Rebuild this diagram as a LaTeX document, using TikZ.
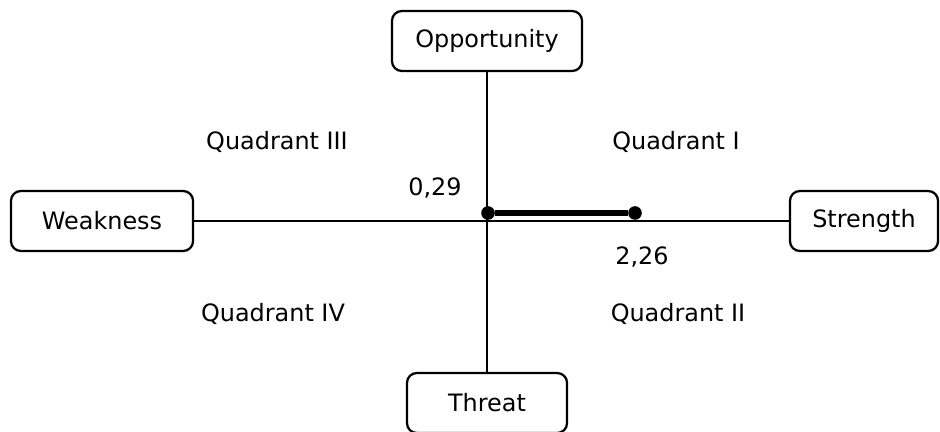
\documentclass[tikz,border=0pt]{standalone}
\usepackage{fontspec}
\setmainfont{DejaVu Sans}
\begin{document}
\begin{tikzpicture}[x=0.025cm, y=-0.025cm]

      \tikzset{axisbox/.style={draw, rounded corners=7pt, line width=1.6pt, minimum height=1.5cm, inner sep=0pt, font=\fontsize{17pt}{20pt}\selectfont},
               quadtext/.style={font=\fontsize{17pt}{20pt}\selectfont},
               enddot/.style={circle, fill=black, inner sep=0pt, minimum size=.34cm}}
      \useasboundingbox (0,0) rectangle (940,432);
%% Boxes
      	\node[axisbox, minimum width=4.75cm] (opp) at (487,41) {Opportunity};
      	\node[axisbox, minimum width=4.55cm] (weak) at (102,221) {Weakness};
      	\node[axisbox, minimum width=3.7cm] (str) at (864,221) {Strength};
      	\node[axisbox, minimum width=4cm] (thr) at (487,403) {Threat};
%% Quadrants
      	\node[quadtext] (q1) at (676,142) {Quadrant I};
      	\node[quadtext] (q2) at (678,314) {Quadrant II};
      	\node[quadtext] (q3) at (277,142) {Quadrant III};
      	\node[quadtext] (q4) at (273,314) {Quadrant IV};
%% Points
      	\node[enddot] (p1) at (488,213) {};
      	\node[enddot] (p2) at (635,213) {};
      	\node[quadtext] (v1) at (435,188) {0,29};
      	\node[quadtext] (v2) at (642,257) {2,26};
%Axes
		\path [line width=0.75pt] (opp) edge (thr);
		\path [line width=0.75pt] (weak) edge (str);
		\path [line width=4.5pt] (p1) edge (p2);

	\end{tikzpicture}
\end{document}
